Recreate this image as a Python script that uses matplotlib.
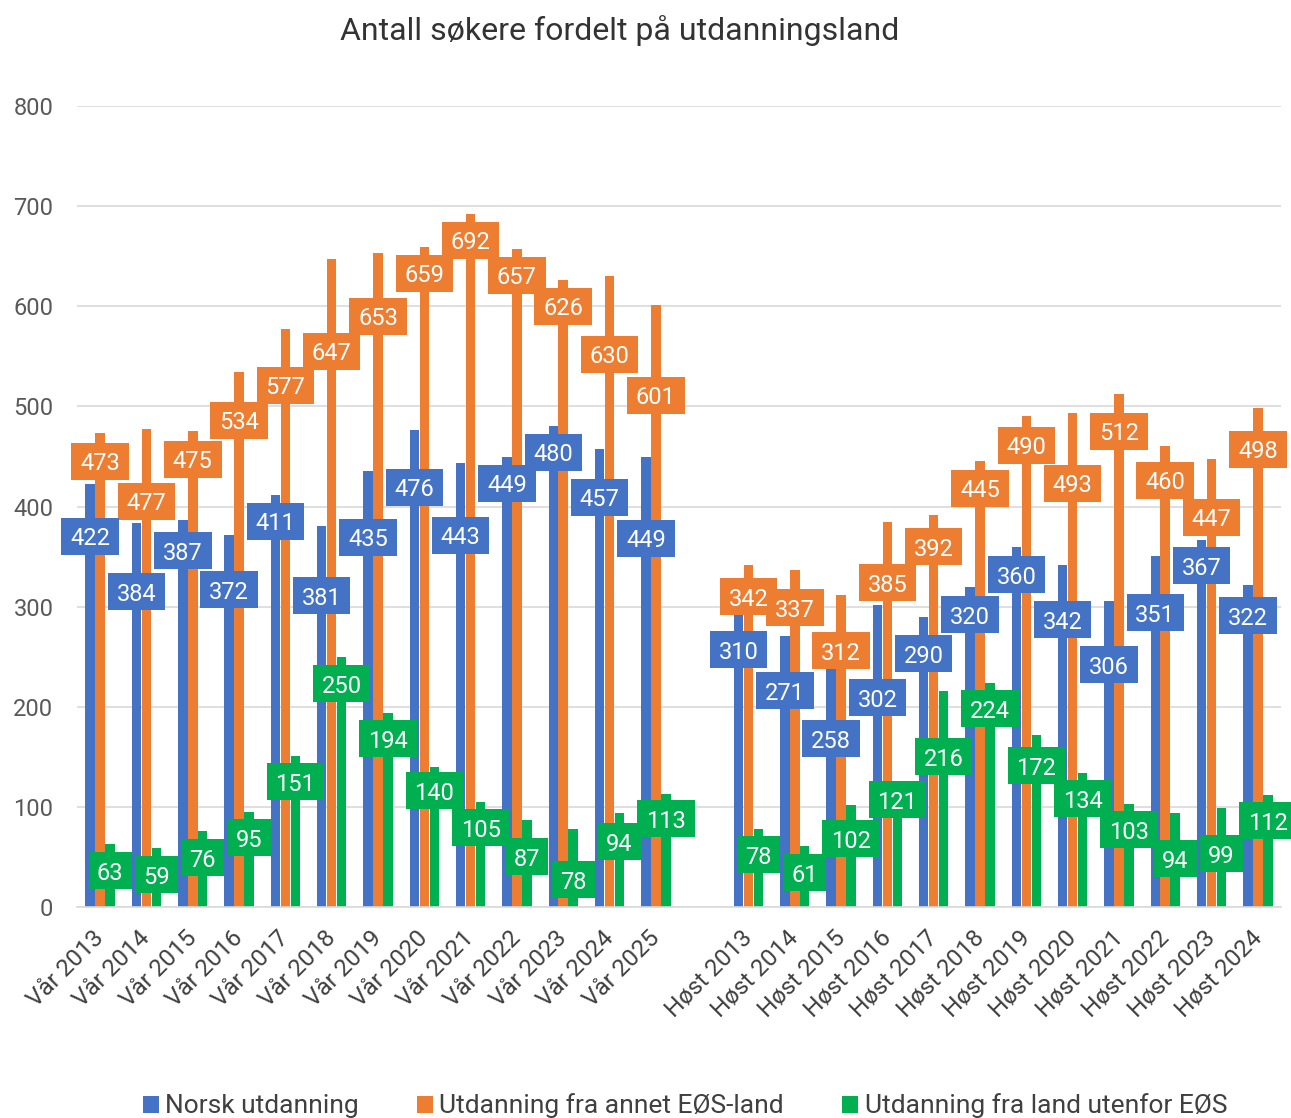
import numpy as np
import matplotlib
matplotlib.use("Agg")
import matplotlib.pyplot as plt
import matplotlib.transforms as mtransforms
from matplotlib.patches import Rectangle, Patch

plt.rcParams['font.family'] = ['Roboto', 'DejaVu Sans']

title = "Antall søkere fordelt på utdanningsland"
vaar_labels = ["Vår 2013", "Vår 2014", "Vår 2015", "Vår 2016", "Vår 2017", "Vår 2018", "Vår 2019",
               "Vår 2020", "Vår 2021", "Vår 2022", "Vår 2023", "Vår 2024", "Vår 2025"]
host_labels = ["Høst 2013", "Høst 2014", "Høst 2015", "Høst 2016", "Høst 2017", "Høst 2018",
               "Høst 2019", "Høst 2020", "Høst 2021", "Høst 2022", "Høst 2023", "Høst 2024"]

norsk_vaar = [422, 384, 387, 372, 411, 381, 435, 476, 443, 449, 480, 457, 449]
norsk_host = [310, 271, 258, 302, 290, 320, 360, 342, 306, 351, 367, 322]
eos_vaar = [473, 477, 475, 534, 577, 647, 653, 659, 692, 657, 626, 630, 601]
eos_host = [342, 337, 312, 385, 392, 445, 490, 493, 512, 460, 447, 498]
utenfor_vaar = [63, 59, 76, 95, 151, 250, 194, 140, 105, 87, 78, 94, 113]
utenfor_host = [78, 61, 102, 121, 216, 224, 172, 134, 103, 94, 99, 112]

series_names = ["Norsk utdanning", "Utdanning fra annet EØS-land", "Utdanning fra land utenfor EØS"]
colors = ["#4472C4", "#ED7D31", "#00B050"]

# layout: how far (px) each value label's centre sits below the top of its bar
drop_norsk = [52, 69, 31, 55, 26, 70, 66, 57, 72, 26, 26, 48, 81,
              53, 55, 90, 93, 37, 28, 28, 55, 64, 57, 26, 31]
drop_eos = [28, 72, 28, 48, 56, 92, 63, 26, 26, 26, 26, 78, 90,
            32, 38, 56, 61, 32, 27, 29, 70, 37, 34, 58, 41]
drop_utenfor = [27, 27, 27, 26, 26, 27, 26, 24, 26, 37, 51, 29, 25,
                26, 27, 34, 14, 66, 26, 31, 26, 26, 46, 46, 26]

categories = vaar_labels + [""] + host_labels
pos = np.array(list(range(len(vaar_labels))) + list(range(len(vaar_labels) + 1, len(categories))))
series = [norsk_vaar + norsk_host, eos_vaar + eos_host, utenfor_vaar + utenfor_host]
drops = [drop_norsk, drop_eos, drop_utenfor]

W, Hf = 1291, 1118
fig = plt.figure(figsize=(W / 100, Hf / 100), dpi=100)
ax = fig.add_axes([77 / W, 1 - 907 / Hf, (1281 - 77) / W, (907 - 106) / Hf])
ax.set_xlim(-0.5, len(categories) - 0.5)
ax.set_ylim(0, 800)

bw = 0.205
offs = [-0.215, 0.0, 0.215]
for vals, c, o, name in zip(series, colors, offs, series_names):
    ax.bar(pos + o, vals, width=bw, color=c, zorder=2, label=name)

ax.set_yticks(range(0, 801, 100))
ax.yaxis.grid(True, color="#d9d9d9", lw=1.2, zorder=0)
ax.set_axisbelow(True)
for s in ["top", "right", "left"]:
    ax.spines[s].set_visible(False)
ax.spines["bottom"].set_color("#d9d9d9")
ax.spines["bottom"].set_linewidth(1.2)
ax.tick_params(axis="y", length=0, pad=17, labelsize=17, labelcolor="#595959")
ax.tick_params(axis="x", length=0, pad=14, labelsize=17.5, labelcolor="#404040")
ax.set_xticks(range(len(categories)))
ax.set_xticklabels(categories, rotation=45, ha="right", va="top", rotation_mode="anchor")
shift = mtransforms.ScaledTranslation(-8 / 100, 0, fig.dpi_scale_trans)
for t in ax.get_xticklabels():
    t.set_transform(t.get_transform() + shift)

fig.text(619.5 / W, 1 - 31 / Hf, title, ha="center", va="center", fontsize=23, color="#333333")

# value labels: coloured boxes centred on their bars
H = 37.0
inv = ax.transData.inverted()
for si in [1, 0, 2]:
    for p, v, d in zip(pos, series[si], drops[si]):
        txt = str(v)
        w = 14.5 * len(txt) + 14
        cx, ty = ax.transData.transform((p + offs[si], v))
        cy = ty - d
        (dx0, dy0) = inv.transform((cx - w / 2, cy - H / 2))
        (dx1, dy1) = inv.transform((cx + w / 2, cy + H / 2))
        ax.add_patch(Rectangle((dx0, dy0), dx1 - dx0, dy1 - dy0, facecolor=colors[si],
                               edgecolor="none", zorder=5, clip_on=False))
        ax.text((dx0 + dx1) / 2, (dy0 + dy1) / 2, txt, ha="center", va="center_baseline",
                color="white", fontsize=17, zorder=6, clip_on=False)

handles = [Patch(facecolor=c, edgecolor="none") for c in colors]
fig.legend(handles, series_names, loc="center", bbox_to_anchor=(685 / W, 1 - 1106 / Hf), ncol=3,
           frameon=False, fontsize=19, handlelength=0.6, handleheight=0.6, handletextpad=0.25,
           columnspacing=2.2, labelcolor="#404040")

fig.savefig("out.png", dpi=100)
